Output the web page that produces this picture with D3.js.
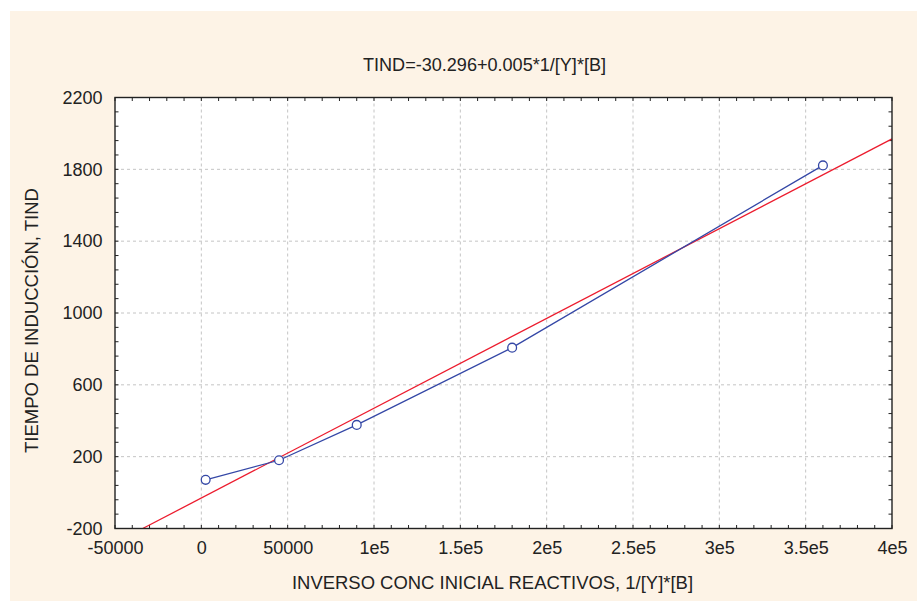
<!DOCTYPE html>
<html>
<head>
<meta charset="utf-8">
<script src="https://cdn.jsdelivr.net/npm/d3@7"></script>
<style>
  html, body { margin: 0; padding: 0; background: #fff; }
  svg { display: block; font-family: "Liberation Sans", Arial, sans-serif; }
</style>
</head>
<body>
<div id="chart"></div>
<script>
/* Induction time vs inverse initial concentration — scatter + fit line */

// ---- Data ----
const xValues = [2500, 45000, 90000, 180000, 360000];
const yValues = [71, 180, 377, 807, 1822];
const fitIntercept = -30.296;
const fitSlope = 0.005;
const xTicks = [-50000, 0, 50000, 100000, 150000, 200000, 250000, 300000, 350000, 400000];
const xTickLabels = ['-50000', '0', '50000', '1e5', '1.5e5', '2e5', '2.5e5', '3e5', '3.5e5', '4e5'];
const yTicks = [-200, 200, 600, 1000, 1400, 1800, 2200];
const yTickLabels = ['-200', '200', '600', '1000', '1400', '1800', '2200'];
const titleText = 'TIND=-30.296+0.005*1/[Y]*[B]';
const xLabel = 'INVERSO CONC INICIAL REACTIVOS, 1/[Y]*[B]';
const yLabel = 'TIEMPO DE INDUCCIÓN, TIND';

const W = 917, H = 601;
const margin = { top: 97.5, right: 25, bottom: 72.5, left: 115 };
const innerW = W - margin.left - margin.right;
const innerH = H - margin.top - margin.bottom;
const FONT = '18px';

const svg = d3.select('#chart').append('svg')
  .attr('width', W).attr('height', H);

// peach backdrop
svg.append('rect')
  .attr('x', 10).attr('y', 11).attr('width', W - 10).attr('height', H - 11)
  .attr('fill', '#fdf3e6');

const g = svg.append('g').attr('transform', `translate(${margin.left},${margin.top})`);

const x = d3.scaleLinear().domain([-50000, 400000]).range([0, innerW]);
const y = d3.scaleLinear().domain([-200, 2200]).range([innerH, 0]);

g.append('rect')
  .attr('width', innerW).attr('height', innerH)
  .attr('fill', '#fff');

// ---- Grid ----
const grid = g.append('g')
  .attr('stroke', '#c4c4c4').attr('stroke-width', 1).attr('stroke-dasharray', '3,3');
grid.selectAll('.vx').data(xTicks.slice(1, -1)).join('line')
  .attr('x1', d => x(d)).attr('x2', d => x(d))
  .attr('y1', 0).attr('y2', innerH);
grid.selectAll('.hy').data(yTicks.slice(1, -1)).join('line')
  .attr('x1', 0).attr('x2', innerW)
  .attr('y1', d => y(d)).attr('y2', d => y(d));

// ---- Minor ticks (inward, all four sides) ----
const xMinor = d3.range(-50000, 400001, 10000);
const yMinor = d3.range(-200, 2201, 80);
const tickLen = 3.5;
const ticks = g.append('g').attr('stroke', '#222').attr('stroke-width', 1);
ticks.selectAll('.tb').data(xMinor).join('line')
  .attr('x1', d => x(d)).attr('x2', d => x(d))
  .attr('y1', innerH).attr('y2', innerH - tickLen);
ticks.selectAll('.tt').data(xMinor).join('line')
  .attr('x1', d => x(d)).attr('x2', d => x(d))
  .attr('y1', 0).attr('y2', tickLen);
ticks.selectAll('.tl').data(yMinor).join('line')
  .attr('x1', 0).attr('x2', tickLen)
  .attr('y1', d => y(d)).attr('y2', d => y(d));
ticks.selectAll('.tr').data(yMinor).join('line')
  .attr('x1', innerW).attr('x2', innerW - tickLen)
  .attr('y1', d => y(d)).attr('y2', d => y(d));

// ---- Axes (labels only) ----
g.append('g')
  .attr('transform', `translate(0,${innerH})`)
  .call(d3.axisBottom(x).tickValues(xTicks).tickSize(0).tickPadding(12.5)
    .tickFormat((d, i) => xTickLabels[i]))
  .call(a => a.select('.domain').remove())
  .selectAll('text')
  .attr('font-size', FONT).attr('fill', '#222')
  .attr('font-family', '"Liberation Sans", Arial, sans-serif');

g.append('g')
  .call(d3.axisLeft(y).tickValues(yTicks).tickSize(0).tickPadding(12.5)
    .tickFormat((d, i) => yTickLabels[i]))
  .call(a => a.select('.domain').remove())
  .selectAll('text')
  .attr('font-size', FONT).attr('fill', '#222')
  .attr('font-family', '"Liberation Sans", Arial, sans-serif');

// ---- Regression line ----
const fit = d => fitIntercept + fitSlope * d;
const xStart = (-200 - fitIntercept) / fitSlope;
const xEnd = 400000;
g.append('line')
  .attr('x1', x(xStart)).attr('y1', y(fit(xStart)))
  .attr('x2', x(xEnd)).attr('y2', y(fit(xEnd)))
  .attr('stroke', '#ec1c2e').attr('stroke-width', 1.3);

// ---- Observed series ----
const pts = xValues.map((v, i) => [v, yValues[i]]);
g.append('path')
  .datum(pts)
  .attr('fill', 'none')
  .attr('stroke', '#3447a6').attr('stroke-width', 1.3)
  .attr('d', d3.line().x(d => x(d[0])).y(d => y(d[1])));

g.selectAll('.pt').data(pts).join('circle')
  .attr('cx', d => x(d[0])).attr('cy', d => y(d[1]))
  .attr('r', 4.4)
  .attr('fill', '#fff')
  .attr('stroke', '#3447a6').attr('stroke-width', 1.3);

// ---- Frame ----
g.append('rect')
  .attr('width', innerW).attr('height', innerH)
  .attr('fill', 'none').attr('stroke', '#222').attr('stroke-width', 1.4);

// ---- Titles ----
svg.append('text')
  .attr('x', 363).attr('y', 70.5)
  .attr('font-size', FONT).attr('fill', '#222')
  .attr('textLength', 243).attr('lengthAdjust', 'spacingAndGlyphs')
  .text(titleText);

svg.append('text')
  .attr('x', 292).attr('y', 589)
  .attr('font-size', FONT).attr('fill', '#222')
  .attr('textLength', 401).attr('lengthAdjust', 'spacingAndGlyphs')
  .text(xLabel);

svg.append('text')
  .attr('transform', 'translate(37.5,453) rotate(-90)')
  .attr('font-size', FONT).attr('fill', '#222')
  .attr('textLength', 265).attr('lengthAdjust', 'spacingAndGlyphs')
  .text(yLabel);
</script>
</body>
</html>
